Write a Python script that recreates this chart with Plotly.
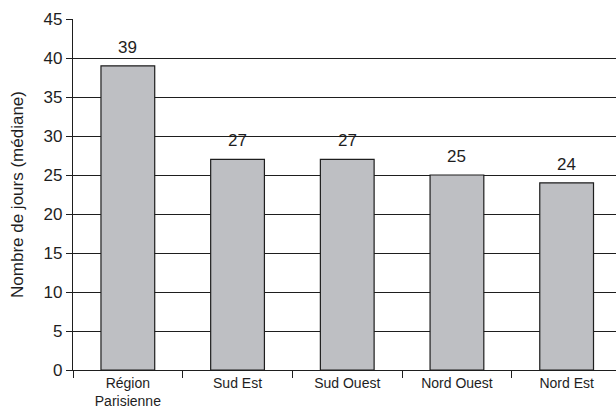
import plotly.graph_objects as go

# Median number of days by region
regions = ["Région<br>Parisienne", "Sud Est", "Sud Ouest", "Nord Ouest", "Nord Est"]
median_days = [39, 27, 27, 25, 24]
y_ticks = [0, 5, 10, 15, 20, 25, 30, 35, 40, 45]

FONT = "Liberation Sans, Arial, Helvetica, sans-serif"
INK = "#1e1e1e"

fig = go.Figure()
fig.add_trace(go.Bar(
    x=regions,
    y=median_days,
    width=0.49,
    marker=dict(color="#bebfc3", line=dict(color=INK, width=1.2)),
    hoverinfo="skip",
))

# value labels above each bar
for r, v in zip(regions, median_days):
    fig.add_annotation(
        x=r, y=v, text=str(v), showarrow=False,
        yanchor="bottom", yshift=7,
        font=dict(family=FONT, size=17, color=INK),
    )

fig.update_layout(
    width=616, height=409,
    margin=dict(l=73, r=0, t=19, b=39, pad=0),
    paper_bgcolor="white", plot_bgcolor="white",
    showlegend=False,
    font=dict(family=FONT, size=16, color=INK),
)
fig.update_xaxes(
    type="category",
    range=[-0.5, 4.45],
    automargin=False,
    showline=True, linecolor=INK, linewidth=1.2,
    ticks="outside", tickson="boundaries", ticklen=7, tickcolor=INK, tickwidth=1.2,
    showgrid=False,
    tickfont=dict(family=FONT, size=14, color=INK),
)
fig.update_yaxes(
    range=[0, 45],
    tickvals=y_ticks,
    automargin=False,
    showline=True, linecolor=INK, linewidth=1.2,
    ticks="outside", ticklen=6, tickcolor=INK, tickwidth=1.2,
    showgrid=True, gridcolor=INK, gridwidth=1.2,
    zeroline=False,
    tickfont=dict(family=FONT, size=17, color=INK),
    title=dict(text="Nombre de jours (médiane)", font=dict(family=FONT, size=17, color=INK), standoff=15),
)

fig.write_html("out.html")
